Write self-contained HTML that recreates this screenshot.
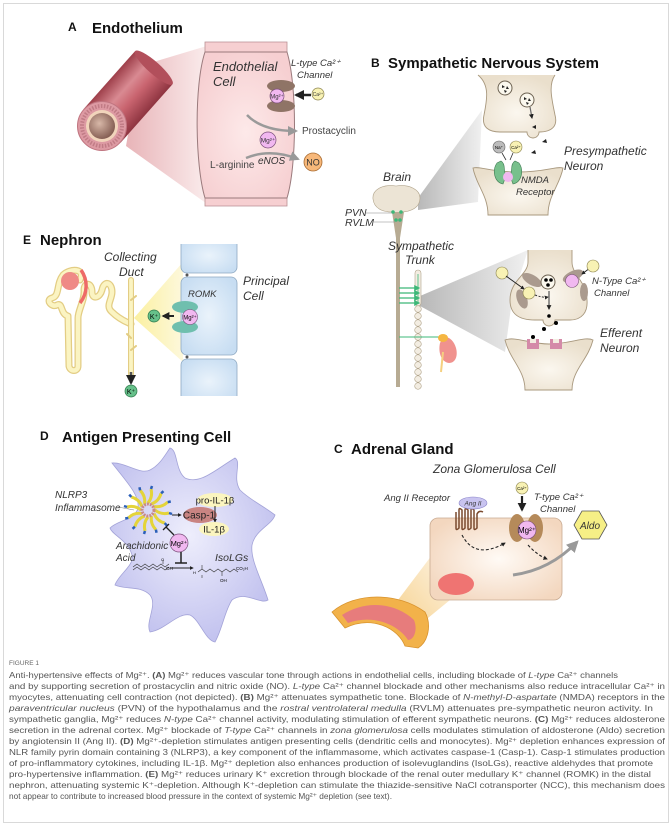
<!DOCTYPE html>
<html><head><meta charset="utf-8"><style>
html,body{margin:0;padding:0;background:#fff;}
svg{display:block;font-family:"Liberation Sans",sans-serif;}
.t{font-weight:bold;font-size:15px;fill:#111;}
.l{font-weight:bold;font-size:12px;fill:#111;}
.i{font-style:italic;fill:#333;}
.cap{font-size:8.4px;fill:#555;}
</style></head><body>
<svg width="672" height="830" viewBox="0 0 672 830" xmlns="http://www.w3.org/2000/svg">
<defs>
<linearGradient id="tube" x1="0" y1="0" x2="0" y2="1"><stop offset="0" stop-color="#9e3f4a"/><stop offset="0.35" stop-color="#d98a92"/><stop offset="0.6" stop-color="#c9646f"/><stop offset="1" stop-color="#8e3440"/></linearGradient>
<linearGradient id="funA" x1="0" y1="0" x2="1" y2="0"><stop offset="0" stop-color="#e8b4b8"/><stop offset="1" stop-color="#fbeeee"/></linearGradient>
<radialGradient id="endo" cx="0.5" cy="0.55" r="0.6"><stop offset="0" stop-color="#fde9e9"/><stop offset="1" stop-color="#f6cfd1"/></radialGradient>
<radialGradient id="lumen" cx="0.4" cy="0.4" r="0.7"><stop offset="0" stop-color="#d8b8a8"/><stop offset="1" stop-color="#7a5248"/></radialGradient>
<linearGradient id="funG" x1="0" y1="0" x2="1" y2="0"><stop offset="0" stop-color="#b8b8b8"/><stop offset="1" stop-color="#f0f0f0"/></linearGradient>
<radialGradient id="neu" cx="0.5" cy="0.6" r="0.6"><stop offset="0" stop-color="#fbf7ef"/><stop offset="1" stop-color="#eadfcc"/></radialGradient>
<radialGradient id="pc" cx="0.5" cy="0.5" r="0.6"><stop offset="0" stop-color="#eaf3fb"/><stop offset="1" stop-color="#c7ddf2"/></radialGradient>
<linearGradient id="funY" x1="0" y1="0" x2="1" y2="0"><stop offset="0" stop-color="#fbf0a0"/><stop offset="1" stop-color="#fdf8dc"/></linearGradient>
<radialGradient id="apc" cx="0.48" cy="0.45" r="0.55"><stop offset="0" stop-color="#eeeefc"/><stop offset="1" stop-color="#c3c3ef"/></radialGradient>
<radialGradient id="zg" cx="0.52" cy="0.5" r="0.6"><stop offset="0" stop-color="#fffaf5"/><stop offset="1" stop-color="#f3d7bf"/></radialGradient>
<linearGradient id="funO" x1="0" y1="1" x2="1" y2="0"><stop offset="0" stop-color="#f7d597"/><stop offset="1" stop-color="#fdf3e2"/></linearGradient>
<marker id="ag" viewBox="0 0 10 10" refX="8" refY="5" markerWidth="4" markerHeight="4" orient="auto"><path d="M0,0L10,5L0,10z" fill="#999"/></marker>
<marker id="ak" viewBox="0 0 10 10" refX="8" refY="5" markerWidth="4" markerHeight="4" orient="auto"><path d="M0,0L10,5L0,10z" fill="#222"/></marker>
<marker id="agr" viewBox="0 0 10 10" refX="8" refY="5" markerWidth="5" markerHeight="5" orient="auto"><path d="M0,0L10,5L0,10z" fill="#3cb878"/></marker>
<g id="spoke"><path d="M148,503 Q153,497 151,489" fill="none" stroke="#e4d43a" stroke-width="3"/><path d="M151,489 l1,-3" stroke="#2b5fb8" stroke-width="2.5"/></g>
</defs>

<rect x="3.5" y="3.5" width="665" height="819" fill="#fff" stroke="#d9d9d9"/>

<!-- ===== A ===== -->
<text x="68" y="31" class="l">A</text><text x="92" y="33" class="t">Endothelium</text>
<polygon points="140,66 210,45 210,206 126,146" fill="url(#funA)"/>
<g transform="translate(102,126) rotate(-48.4)">
<rect x="0" y="-25" width="78" height="50" fill="url(#tube)"/>
<ellipse cx="78" cy="0" rx="6" ry="25" fill="#b24f5b"/>
</g>
<circle cx="102" cy="126" r="24.5" fill="#dd9aa3" stroke="#c07580"/>
<circle cx="102" cy="126" r="20" fill="none" stroke="#c17c86" stroke-width="4" stroke-dasharray="1.5,1.5"/>
<circle cx="102" cy="126" r="16" fill="#f1d4bb"/>
<circle cx="102" cy="126" r="13" fill="url(#lumen)"/>
<path d="M205,42 L287,42 L287,52 L205,52Z" fill="#f6cfd1" stroke="#b98f92" stroke-width="0.8"/>
<path d="M205,198 L287,198 L287,206 L205,206Z" fill="#f6cfd1" stroke="#b98f92" stroke-width="0.8"/>
<path d="M205,52 C194,85 195,165 205,198 L287,198 C297,165 297,85 287,52 Z" fill="url(#endo)" stroke="#9a7a7c" stroke-width="1"/>
<text x="213" y="71" class="i" font-size="13">Endothelial</text>
<text x="213" y="86" class="i" font-size="13">Cell</text>
<text x="291" y="66" class="i" font-size="9.5">L-type Ca²⁺</text>
<text x="297" y="78" class="i" font-size="9.5">Channel</text>
<ellipse cx="281" cy="86" rx="14" ry="6" fill="#8f7466"/>
<ellipse cx="281" cy="106" rx="14" ry="6" fill="#8f7466"/>
<circle cx="277" cy="96" r="7" fill="#f1b8f0" stroke="#7a4f7a" stroke-width="0.7"/>
<text x="277" y="98.5" font-size="6" text-anchor="middle" fill="#333">Mg²⁺</text>
<line x1="311" y1="95" x2="296" y2="95" stroke="#222" stroke-width="2.5" marker-end="url(#ak)"/>
<circle cx="318" cy="94" r="6" fill="#f8f2b4" stroke="#8c8450" stroke-width="0.7"/>
<text x="318" y="96" font-size="5" text-anchor="middle" fill="#333">Ca²⁺</text>
<path d="M247,115 Q262,131 296,131" fill="none" stroke="#9a9a9a" stroke-width="2.5" marker-end="url(#ag)"/>
<text x="302" y="134" font-size="10" fill="#444">Prostacyclin</text>
<circle cx="268" cy="140" r="8" fill="#f1b8f0" stroke="#7a4f7a" stroke-width="0.7"/>
<text x="268" y="142.5" font-size="6.5" text-anchor="middle" fill="#333">Mg²⁺</text>
<text x="210" y="168" font-size="10" fill="#444">L-arginine</text>
<text x="258" y="164" class="i" font-size="10">eNOS</text>
<path d="M246,158 Q270,148 298,159" fill="none" stroke="#9a9a9a" stroke-width="2.5" marker-end="url(#ag)"/>
<circle cx="313" cy="162" r="9" fill="#f7b87a" stroke="#a86a30" stroke-width="0.8"/>
<text x="313" y="165.5" font-size="9" text-anchor="middle" fill="#333">NO</text>

<!-- ===== B ===== -->
<text x="371" y="67" class="l">B</text><text x="388" y="68" class="t">Sympathetic Nervous System</text>
<polygon points="418,198 482,110 478,202 418,210" fill="url(#funG)"/>
<path d="M478,75 C490,85 487,100 484,115 C481,128 490,132 500,132 L527,132 A6,6 0 0 0 539,132 C552,132 558,126 555,115 C552,100 548,85 555,75" fill="url(#neu)" stroke="#a8987e" stroke-width="0.9"/>
<circle cx="505" cy="88" r="7" fill="#fbf8ee" stroke="#6d6252"/>
<path d="M502,85l3,2-3,1z M507,86l2,3-3,0z M504,90l3,1-2,2z" fill="#222"/>
<circle cx="527" cy="100" r="7" fill="#fbf8ee" stroke="#6d6252"/>
<path d="M524,97l3,2-3,1z M529,98l2,3-3,0z M526,102l3,1-2,2z" fill="#222"/>
<line x1="530" y1="107" x2="532" y2="118" stroke="#666" stroke-width="1.2" marker-end="url(#ak)"/>
<path d="M536,125l-4,2 4,2z M546,139l-4,3 5,1z M535,150l-4,3 5,1z" fill="#222"/>
<path d="M473,168 C480,166 490,172 518,172 C546,172 556,166 563,168 C560,185 548,195 548,215 L488,215 C488,195 476,185 473,168 Z" fill="url(#neu)" stroke="#a8987e" stroke-width="0.9"/>
<circle cx="499" cy="147" r="6" fill="#bcbcbc" stroke="#666" stroke-width="0.6"/><text x="499" y="149" font-size="4.5" text-anchor="middle">Na⁺</text>
<circle cx="516" cy="147" r="6" fill="#f8f2b4" stroke="#8c8450" stroke-width="0.6"/><text x="516" y="149" font-size="4.5" text-anchor="middle">Ca²⁺</text>
<path d="M502,153 L506,160 M513,153 L510,160" stroke="#333" stroke-width="0.8"/>
<path d="M497,163 C492,170 494,182 503,184 L506,176 C503,170 506,164 501,161Z M519,163 C524,170 522,182 513,184 L510,176 C513,170 510,164 515,161Z" fill="#78c08c" stroke="#3e7a52" stroke-width="0.6"/>
<circle cx="508" cy="177" r="5" fill="#f1b8f0"/>
<text x="564" y="155" class="i" font-size="12">Presympathetic</text>
<text x="564" y="170" class="i" font-size="12">Neuron</text>
<text x="521" y="183" class="i" font-size="9.5">NMDA</text>
<text x="516" y="195" class="i" font-size="9.5">Receptor</text>
<text x="383" y="181" class="i" font-size="12">Brain</text>
<path d="M396,186 C382,184 372,190 373,199 C374,208 382,212 392,212 L396,214 L400,212 C412,212 420,207 420,198 C420,190 410,184 396,186Z" fill="#ece4d5" stroke="#b0a38a" stroke-width="0.6"/>
<path d="M392,212 L404,212 L400,238 L400,387 L396,387 L396,238Z" fill="#b7ab93"/>
<circle cx="393" cy="212" r="1.8" fill="#3cb878"/><circle cx="401" cy="212" r="1.8" fill="#3cb878"/>
<circle cx="396" cy="220" r="1.8" fill="#3cb878"/><circle cx="400" cy="220" r="1.8" fill="#3cb878"/>
<text x="345" y="216" class="i" font-size="10.5" fill="#555">PVN</text><line x1="365" y1="213" x2="392" y2="213" stroke="#888" stroke-width="0.6"/>
<text x="345" y="226" class="i" font-size="10.5" fill="#555">RVLM</text><line x1="374" y1="222" x2="395" y2="222" stroke="#888" stroke-width="0.6"/>
<text x="388" y="250" class="i" font-size="12">Sympathetic</text>
<text x="405" y="264" class="i" font-size="12">Trunk</text>
<polygon points="420,296 528,250 512,300 505,352 420,306" fill="url(#funG)"/>
<rect x="415" y="270" width="6" height="36" rx="3" fill="#f3ede2" stroke="#b0a38a" stroke-width="0.6"/>
<line x1="418" y1="274" x2="418" y2="302" stroke="#3cb878" stroke-width="0.8"/>
<g fill="#f3ede2" stroke="#b0a38a" stroke-width="0.6">
<circle cx="418" cy="309" r="3.3"/><circle cx="418" cy="316" r="3.3"/><circle cx="418" cy="323" r="3.3"/><circle cx="418" cy="330" r="3.3"/><circle cx="418" cy="337" r="3.3"/><circle cx="418" cy="344" r="3.3"/><circle cx="418" cy="351" r="3.3"/><circle cx="418" cy="358" r="3.3"/><circle cx="418" cy="365" r="3.3"/><circle cx="418" cy="372" r="3.3"/><circle cx="418" cy="379" r="3.3"/><circle cx="418" cy="386" r="3.3"/>
</g>
<g stroke="#3cb878" stroke-width="1.2"><line x1="399" y1="288" x2="419" y2="288" marker-end="url(#agr)"/><line x1="399" y1="293" x2="419" y2="293" marker-end="url(#agr)"/><line x1="399" y1="298" x2="419" y2="298" marker-end="url(#agr)"/><line x1="399" y1="303" x2="419" y2="303" marker-end="url(#agr)"/><line x1="399" y1="337" x2="442" y2="337" stroke-width="0.9"/></g>
<path d="M440,343 C438,352 441,362 449,363 C456,363 458,355 456,348 C454,340 447,335 443,338Z" fill="#f0928e"/>
<ellipse cx="443" cy="338" rx="5" ry="4" fill="#f5b642"/>
<path d="M443,352 L441,372" stroke="#f5d080" stroke-width="2"/>
<path d="M528,250 L528,262 C528,275 510,280 510,300 C510,315 520,320 535,320 L543,320 A6,6 0 0 0 555,320 L570,320 C582,320 588,312 587,300 C587,282 572,275 572,262 L572,250" fill="url(#neu)" stroke="#a8987e" stroke-width="0.9"/>
<g fill="#aa9a8e"><ellipse cx="532" cy="280" rx="11" ry="5" transform="rotate(30 532 280)"/><ellipse cx="522" cy="299" rx="5" ry="10" transform="rotate(-20 522 299)"/><ellipse cx="573" cy="276" rx="11" ry="5" transform="rotate(-25 573 276)"/><ellipse cx="584" cy="292" rx="4" ry="9"/></g>
<circle cx="502" cy="273" r="6" fill="#f8f2b4" stroke="#8c8450" stroke-width="0.6"/>
<line x1="506" y1="276" x2="524" y2="289" stroke="#222" stroke-width="1" marker-end="url(#ak)"/>
<circle cx="529" cy="293" r="6" fill="#f8f2b4" stroke="#8c8450" stroke-width="0.6"/>
<path d="M535,295 Q543,298 548,297" fill="none" stroke="#333" stroke-dasharray="2,1.5" marker-end="url(#ak)"/>
<circle cx="548" cy="282" r="7" fill="#fbf8ee" stroke="#6d6252"/>
<circle cx="546" cy="280" r="1.8"/><circle cx="551" cy="280" r="1.8"/><circle cx="548" cy="285" r="1.8"/>
<line x1="549" y1="291" x2="549" y2="309" stroke="#555" stroke-width="1.2" marker-end="url(#ak)"/>
<circle cx="549" cy="316" r="1.8"/>
<circle cx="572" cy="281" r="6.5" fill="#f1b8f0" stroke="#7a4f7a" stroke-width="0.6"/>
<line x1="590" y1="268" x2="582" y2="274" stroke="#222" stroke-width="1" marker-end="url(#ak)"/>
<circle cx="593" cy="266" r="6" fill="#f8f2b4" stroke="#8c8450" stroke-width="0.6"/>
<text x="592" y="284" class="i" font-size="9.5">N-Type Ca²⁺</text>
<text x="594" y="296" class="i" font-size="9.5">Channel</text>
<circle cx="544" cy="329" r="2"/><circle cx="556" cy="323" r="2"/><circle cx="533" cy="337" r="2"/>
<path d="M505,340 C515,336 530,344 549,344 C570,344 585,336 593,340 C588,360 572,370 572,390 L525,390 C525,370 510,360 505,340Z" fill="url(#neu)" stroke="#a8987e" stroke-width="0.9"/>
<path d="M527,339 h12 v10 h-12z M550,339 h12 v10 h-12z" fill="#d48aa8"/>
<path d="M530,339 h6 v4 h-6z M553,339 h6 v4 h-6z" fill="#f3ece0"/>
<text x="600" y="337" class="i" font-size="12">Efferent</text>
<text x="600" y="352" class="i" font-size="12">Neuron</text>

<!-- ===== E ===== -->
<text x="23" y="244" class="l">E</text><text x="40" y="245" class="t">Nephron</text>
<text x="104" y="261" class="i" font-size="12">Collecting</text>
<text x="119" y="276" class="i" font-size="12">Duct</text>
<polygon points="134,318 183,262 183,362" fill="url(#funY)"/>
<rect x="181" y="238" width="56" height="35" rx="6" fill="url(#pc)" stroke="#8fa9c2" stroke-width="0.8"/>
<rect x="181" y="277" width="56" height="78" rx="6" fill="url(#pc)" stroke="#8fa9c2" stroke-width="0.8"/>
<rect x="181" y="359" width="56" height="45" rx="6" fill="url(#pc)" stroke="#8fa9c2" stroke-width="0.8"/>
<rect x="178" y="396" width="64" height="14" fill="#fff"/>
<rect x="178" y="236" width="64" height="8" fill="#fff"/>
<circle cx="187" cy="275" r="1.5" fill="#555"/><circle cx="187" cy="357" r="1.5" fill="#555"/>
<text x="243" y="285" class="i" font-size="12">Principal</text>
<text x="243" y="300" class="i" font-size="12">Cell</text>
<text x="188" y="297" class="i" font-size="9.5" fill="#444">ROMK</text>
<ellipse cx="185" cy="307" rx="13" ry="6" fill="#6fbfae"/>
<ellipse cx="185" cy="327" rx="13" ry="6" fill="#6fbfae"/>
<circle cx="190" cy="317" r="7.5" fill="#f1b8f0" stroke="#7a4f7a" stroke-width="0.6"/><text x="190" y="319.5" font-size="6" text-anchor="middle">Mg²⁺</text>
<line x1="174" y1="316" x2="163" y2="316" stroke="#222" stroke-width="2" marker-end="url(#ak)"/>
<circle cx="154" cy="316" r="6" fill="#66c08a" stroke="#2e7a4b" stroke-width="0.7"/><text x="154" y="319" font-size="7" text-anchor="middle">K⁺</text>
<g fill="none" stroke-linecap="round" stroke-linejoin="round">
<path d="M80,280 C86,268 70,268 63,275 C56,284 60,296 52,298 C45,300 52,308 57,305 C63,302 60,314 68,316 L69,366 C70,372 78,372 78,366 L78,318 C78,310 85,300 84,290 C84,282 92,282 92,292 C92,300 100,298 102,290 C104,280 112,282 112,292 C112,300 105,306 112,312 C118,318 126,322 131,324" stroke="#e3cd84" stroke-width="7"/>
<path d="M80,280 C86,268 70,268 63,275 C56,284 60,296 52,298 C45,300 52,308 57,305 C63,302 60,314 68,316 L69,366 C70,372 78,372 78,366 L78,318 C78,310 85,300 84,290 C84,282 92,282 92,292 C92,300 100,298 102,290 C104,280 112,282 112,292 C112,300 105,306 112,312 C118,318 126,322 131,324" stroke="#fbf4c2" stroke-width="4.5"/>
<path d="M131,280 L131,374" stroke="#e3cd84" stroke-width="6"/>
<path d="M131,280 L131,374" stroke="#fbf4c2" stroke-width="3.8"/>
<path d="M131,300 l5,-4 M131,338 l-4,-4 M131,350 l5,-4" stroke="#e3cd84" stroke-width="2"/>
</g>
<circle cx="70" cy="281" r="9" fill="#ef8a86"/>
<path d="M81,270 C88,280 88,293 80,303" fill="none" stroke="#ee6a68" stroke-width="3.5"/>
<line x1="131" y1="372" x2="131" y2="383" stroke="#555" stroke-width="2.5" marker-end="url(#ak)"/>
<circle cx="131" cy="391" r="6" fill="#66c08a" stroke="#2e7a4b" stroke-width="0.7"/><text x="131" y="394" font-size="7" text-anchor="middle">K⁺</text>

<!-- ===== D ===== -->
<text x="40" y="440" class="l">D</text><text x="62" y="442" class="t">Antigen Presenting Cell</text>
<path d="M150,470 C160,465 165,455 170,448 C178,450 175,470 185,478 C200,485 215,470 235,458 C242,462 232,478 240,490 C250,500 262,505 275,515 C272,525 255,530 252,545 C250,560 262,580 268,600 C260,605 245,590 232,600 C225,610 222,630 215,642 C205,640 200,620 190,615 C178,612 165,630 150,632 C145,622 158,605 150,595 C140,585 125,590 115,585 C118,575 135,565 132,555 C128,540 112,535 110,528 C118,520 135,520 138,508 C140,495 125,480 112,463 C125,462 140,475 150,470 Z" fill="url(#apc)" stroke="#a3a3d8" stroke-width="0.8"/>
<text x="55" y="498" class="i" font-size="10" fill="#444">NLRP3</text>
<text x="55" y="511" class="i" font-size="10" fill="#444">Inflammasome</text>
<line x1="118" y1="507" x2="134" y2="510" stroke="#888" stroke-width="0.6"/>
<g><use href="#spoke"/><use href="#spoke" transform="rotate(30 148 510)"/><use href="#spoke" transform="rotate(60 148 510)"/><use href="#spoke" transform="rotate(90 148 510)"/><use href="#spoke" transform="rotate(120 148 510)"/><use href="#spoke" transform="rotate(150 148 510)"/><use href="#spoke" transform="rotate(180 148 510)"/><use href="#spoke" transform="rotate(210 148 510)"/><use href="#spoke" transform="rotate(240 148 510)"/><use href="#spoke" transform="rotate(270 148 510)"/><use href="#spoke" transform="rotate(300 148 510)"/><use href="#spoke" transform="rotate(330 148 510)"/></g>
<circle cx="148" cy="510" r="6" fill="none" stroke="#c98a86" stroke-width="3" stroke-dasharray="2,1"/>
<line x1="172" y1="515" x2="181" y2="515" stroke="#222" stroke-width="1" marker-end="url(#ak)"/>
<ellipse cx="215" cy="500" rx="18" ry="7" fill="#fbf5bf"/>
<text x="215" y="503.5" font-size="9.5" text-anchor="middle" fill="#222">pro-IL-1β</text>
<ellipse cx="200" cy="515" rx="17" ry="8" fill="#c98482"/>
<text x="199" y="518.5" font-size="10" text-anchor="middle" fill="#222">Casp-1</text>
<line x1="215" y1="506" x2="215" y2="522" stroke="#222" stroke-width="1" marker-end="url(#ak)"/>
<ellipse cx="214" cy="529" rx="15" ry="7" fill="#fbf5bf"/>
<text x="214" y="532.5" font-size="9.5" text-anchor="middle" fill="#222">IL-1β</text>
<circle cx="179" cy="543" r="9" fill="#f1b8f0" stroke="#7a4f7a" stroke-width="0.7"/><text x="179" y="546" font-size="7.5" text-anchor="middle">Mg²⁺</text>
<path d="M174,535 L166,527 M163,530 L169,524" stroke="#222" stroke-width="1.3"/>
<path d="M181,552 L181,563 M175,563 L187,563" stroke="#222" stroke-width="1.5"/>
<line x1="170" y1="568" x2="193" y2="568" stroke="#222" stroke-width="1" marker-end="url(#ak)"/>
<text x="116" y="549" class="i" font-size="10" fill="#444">Arachidonic</text>
<text x="116" y="561" class="i" font-size="10" fill="#444">Acid</text>
<text x="215" y="561" class="i" font-size="10.5" fill="#444">IsoLGs</text>
<path d="M133,567 l4,-3 4,3 4,-3 4,3 4,-3 4,3 4,-3 4,3 4,-3 M133,570 l4,-3 4,3 4,-3 4,3 4,-3 4,3 4,-3 4,3 4,-3 M163,564 l0,-4" fill="none" stroke="#333" stroke-width="0.6"/>
<text x="166" y="570" font-size="4.5">OH</text><text x="161" y="561" font-size="4">O</text>
<path d="M198,572 l4,-3 4,3 4,-3 4,3 4,-3 4,3 4,-3 4,3 4,-3 4,3 M202,569 v-4 M202,575 v3 M222,572 v4" fill="none" stroke="#333" stroke-width="0.6"/>
<text x="236" y="570" font-size="4.5">CO₂H</text><text x="220" y="582" font-size="4.5">OH</text><text x="193" y="574" font-size="4">H</text>

<!-- ===== C ===== -->
<text x="334" y="453" class="l">C</text><text x="351" y="454" class="t">Adrenal Gland</text>
<text x="433" y="473" class="i" font-size="12">Zona Glomerulosa Cell</text>
<polygon points="398,600 432,555 450,600 428,618" fill="url(#funO)"/>
<rect x="430" y="518" width="132" height="82" rx="8" fill="url(#zg)" stroke="#c9ab92" stroke-width="0.8"/>
<ellipse cx="456" cy="584" rx="18" ry="11" fill="#ef7472"/>
<text x="384" y="501" class="i" font-size="9.5" fill="#444">Ang II Receptor</text>
<path d="M456,512 v16 q0,3 3,0 v-18 q0,-3 3,0 v18 q0,3 3,0 v-18 q0,-3 3,0 v18 q0,3 3,0 v-18 q0,-3 3,0 v18 q0,3 3,0 v-14 q2,-4 6,-2" fill="none" stroke="#7a4a2e" stroke-width="1.5"/>
<ellipse cx="473" cy="503" rx="14" ry="6" fill="#c9c4f0" stroke="#8a84c8" stroke-width="0.6"/>
<text x="473" y="505.5" class="i" font-size="6.5" text-anchor="middle">Ang II</text>
<ellipse cx="517" cy="528" rx="8" ry="14" fill="#b58a5a"/><ellipse cx="535" cy="528" rx="8" ry="14" fill="#b58a5a"/>
<circle cx="527" cy="530" r="9" fill="#f1b8f0" stroke="#7a4f7a" stroke-width="0.6"/><text x="527" y="533" font-size="8" text-anchor="middle">Mg²⁺</text>
<circle cx="522" cy="488" r="6" fill="#f8f2b4" stroke="#8c8450" stroke-width="0.6"/><text x="522" y="490" font-size="4.5" text-anchor="middle">Ca²⁺</text>
<line x1="522" y1="496" x2="522" y2="510" stroke="#222" stroke-width="2.2" marker-end="url(#ak)"/>
<text x="534" y="500" class="i" font-size="9.5" fill="#444">T-type Ca²⁺</text>
<text x="540" y="512" class="i" font-size="9.5" fill="#444">Channel</text>
<path d="M462,535 Q475,560 505,543" fill="none" stroke="#222" stroke-width="1.1" stroke-dasharray="3,2" marker-end="url(#ak)"/>
<path d="M528,545 Q537,555 547,559" fill="none" stroke="#222" stroke-width="1.1" stroke-dasharray="3,2" marker-end="url(#ak)"/>
<path d="M513,575 Q550,570 577,542" fill="none" stroke="#9a9a9a" stroke-width="3" marker-end="url(#ag)"/>
<polygon points="582,511 599,511 607,525 599,539 582,539 574,525" fill="#f6ef86" stroke="#555" stroke-width="0.8"/>
<text x="590" y="529" class="i" font-size="10" text-anchor="middle" fill="#222">Aldo</text>
<path d="M332,612 C355,592 398,592 425,612 C432,625 428,642 418,648 L405,646 C398,628 372,615 345,628 Z" fill="#f2b24a" stroke="#d8932e" stroke-width="0.8"/>
<path d="M342,615 C365,600 395,602 414,620 C418,630 414,640 408,640 C398,624 372,614 348,623Z" fill="#e77c7c"/>

<!-- ===== Caption ===== -->
<text x="9" y="665" font-size="6.5" fill="#666">FIGURE 1</text>
<g class="cap">
<text x="9" y="678" textLength="609" lengthAdjust="spacingAndGlyphs">Anti-hypertensive effects of Mg²⁺. <tspan font-weight="bold">(A)</tspan> Mg²⁺ reduces vascular tone through actions in endothelial cells, including blockade of <tspan font-style="italic">L-type</tspan> Ca²⁺ channels</text>
<text x="9" y="689" textLength="656" lengthAdjust="spacingAndGlyphs">and by supporting secretion of prostacyclin and nitric oxide (NO). <tspan font-style="italic">L-type</tspan> Ca²⁺ channel blockade and other mechanisms also reduce intracellular Ca²⁺ in</text>
<text x="9" y="700" textLength="656" lengthAdjust="spacingAndGlyphs">myocytes, attenuating cell contraction (not depicted). <tspan font-weight="bold">(B)</tspan> Mg²⁺ attenuates sympathetic tone. Blockade of <tspan font-style="italic">N-methyl-D-aspartate</tspan> (NMDA) receptors in the</text>
<text x="9" y="711" textLength="644" lengthAdjust="spacingAndGlyphs"><tspan font-style="italic">paraventricular nucleus</tspan> (PVN) of the hypothalamus and the <tspan font-style="italic">rostral ventrolateral medulla</tspan> (RVLM) attenuates pre-sympathetic neuron activity. In</text>
<text x="9" y="722" textLength="656" lengthAdjust="spacingAndGlyphs">sympathetic ganglia, Mg²⁺ reduces <tspan font-style="italic">N-type</tspan> Ca²⁺ channel activity, modulating stimulation of efferent sympathetic neurons. <tspan font-weight="bold">(C)</tspan> Mg²⁺ reduces aldosterone</text>
<text x="9" y="733" textLength="656" lengthAdjust="spacingAndGlyphs">secretion in the adrenal cortex. Mg²⁺ blockade of <tspan font-style="italic">T-type</tspan> Ca²⁺ channels in <tspan font-style="italic">zona glomerulosa</tspan> cells modulates stimulation of aldosterone (Aldo) secretion</text>
<text x="9" y="744" textLength="656" lengthAdjust="spacingAndGlyphs">by angiotensin II (Ang II). <tspan font-weight="bold">(D)</tspan> Mg²⁺-depletion stimulates antigen presenting cells (dendritic cells and monocytes). Mg²⁺ depletion enhances expression of</text>
<text x="9" y="755" textLength="656" lengthAdjust="spacingAndGlyphs">NLR family pyrin domain containing 3 (NLRP3), a key component of the inflammasome, which activates caspase-1 (Casp-1). Casp-1 stimulates production</text>
<text x="9" y="766" textLength="644" lengthAdjust="spacingAndGlyphs">of pro-inflammatory cytokines, including IL-1β. Mg²⁺ depletion also enhances production of isolevuglandins (IsoLGs), reactive aldehydes that promote</text>
<text x="9" y="777" textLength="642" lengthAdjust="spacingAndGlyphs">pro-hypertensive inflammation. <tspan font-weight="bold">(E)</tspan> Mg²⁺ reduces urinary K⁺ excretion through blockade of the renal outer medullary K⁺ channel (ROMK) in the distal</text>
<text x="9" y="788" textLength="656" lengthAdjust="spacingAndGlyphs">nephron, attenuating systemic K⁺-depletion. Although K⁺-depletion can stimulate the thiazide-sensitive NaCl cotransporter (NCC), this mechanism does</text>
<text x="9" y="799" textLength="383" lengthAdjust="spacingAndGlyphs">not appear to contribute to increased blood pressure in the context of systemic Mg²⁺ depletion (see text).</text>
</g>
</svg>
</body></html>
